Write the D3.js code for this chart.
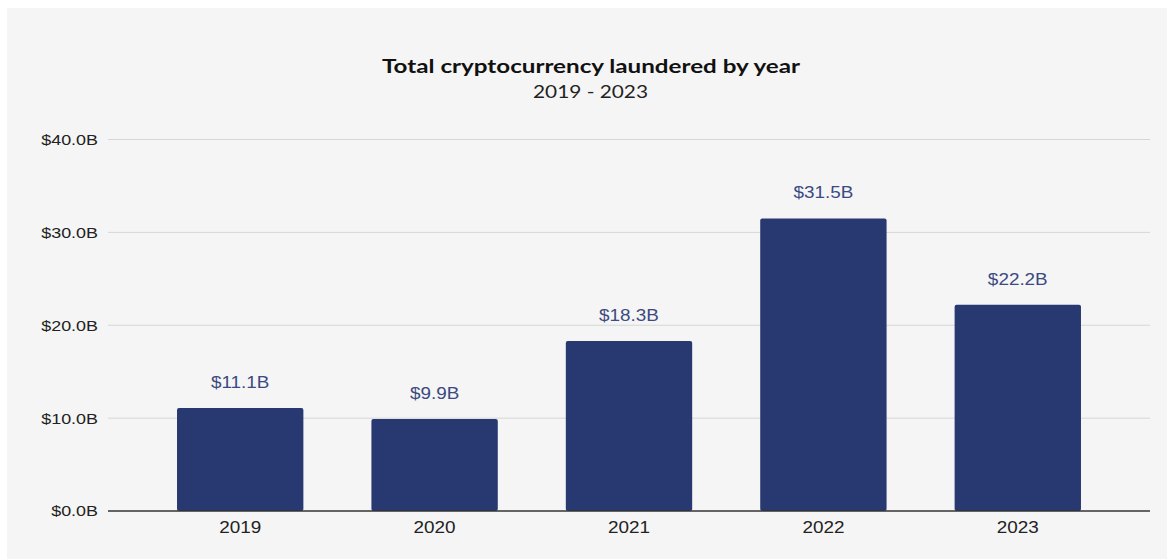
<!DOCTYPE html>
<html><head><meta charset="utf-8">
<script src="https://cdn.jsdelivr.net/npm/d3@7"></script>
<style>body{margin:0;background:#fff;}svg{display:block;}</style>
</head><body>
<svg id="c" width="1167" height="559"></svg>
<script>
const years = ["2019","2020","2021","2022","2023"];
const laundered = [11.1, 9.9, 18.3, 31.5, 22.2];
const yTicks = [0, 10, 20, 30, 40];
const title = "Total cryptocurrency laundered by year";
const subtitle = "2019 - 2023";

const svg = d3.select("#c");
svg.append("rect").attr("x",7).attr("y",8).attr("width",1160).attr("height",551).attr("fill","#f5f5f5");

const y = d3.scaleLinear().domain([0,40]).range([511,139.5]);
const x = d3.scaleBand().domain(years).range([143,1115]).paddingInner(0.35).paddingOuter(0.175);

// horizontal stretch helper (reference text is wider than tall)
function stretch(sel, factor){
  sel.each(function(){
    const w = this.getComputedTextLength();
    d3.select(this).attr("textLength", w*factor).attr("lengthAdjust","spacingAndGlyphs");
  });
}

// gridlines
svg.append("g").selectAll("line").data(yTicks.filter(d=>d>0)).join("line")
  .attr("x1",108).attr("x2",1150).attr("y1",d=>y(d)).attr("y2",d=>y(d))
  .attr("stroke","#d6d6d6").attr("stroke-width",1);

// y labels
const yAxis = d3.axisLeft(y).tickValues(yTicks).tickSize(0).tickPadding(0).tickFormat(d=>"$"+d.toFixed(1)+"B");
const gy = svg.append("g").attr("transform","translate(98,0)").call(yAxis);
gy.select(".domain").remove();
gy.selectAll("text").attr("font-family","Liberation Sans, Arial, sans-serif").attr("font-size",14).attr("fill","#222").attr("dy","0.35em");
stretch(gy.selectAll("text"), 1.28);

// bars
svg.append("g").selectAll("rect").data(years).join("rect")
  .attr("x",d=>x(d)).attr("width",x.bandwidth())
  .attr("y",(d,i)=>y(laundered[i])).attr("height",(d,i)=>y(0)-y(laundered[i]))
  .attr("rx",2).attr("fill","#283870");

// baseline
svg.append("line").attr("x1",108).attr("x2",1150).attr("y1",y(0)).attr("y2",y(0)).attr("stroke","#333").attr("stroke-width",1.5);

// x labels
const xAxis = d3.axisBottom(x).tickSize(0).tickPadding(0);
const gx = svg.append("g").attr("transform","translate(0,"+(y(0))+")").call(xAxis);
gx.select(".domain").remove();
gx.selectAll("text").attr("font-family","Liberation Sans, Arial, sans-serif").attr("font-size",16).attr("fill","#222").attr("dy","1.38em");
stretch(gx.selectAll("text"), 1.18);

// value labels
const vl = svg.append("g").selectAll("text").data(years).join("text")
  .attr("x",d=>x(d)+x.bandwidth()/2).attr("y",(d,i)=>y(laundered[i])-20)
  .attr("text-anchor","middle").attr("font-family","Liberation Sans, Arial, sans-serif").attr("font-size",16)
  .attr("fill","#3b4a80").text((d,i)=>"$"+laundered[i].toFixed(1)+"B");
stretch(vl, 1.18);

// title
const t1 = svg.append("text").attr("x",591).attr("y",73).attr("text-anchor","middle")
  .attr("font-family","Lato, sans-serif").attr("font-weight","bold").attr("font-size",19.5).attr("fill","#111").text(title);
t1.attr("textLength",418).attr("lengthAdjust","spacingAndGlyphs");
const t2 = svg.append("text").attr("x",590.5).attr("y",98).attr("text-anchor","middle")
  .attr("font-family","Lato, sans-serif").attr("font-size",17).attr("fill","#222").text(subtitle);
t2.attr("textLength",115).attr("lengthAdjust","spacingAndGlyphs");
</script>
</body></html>
